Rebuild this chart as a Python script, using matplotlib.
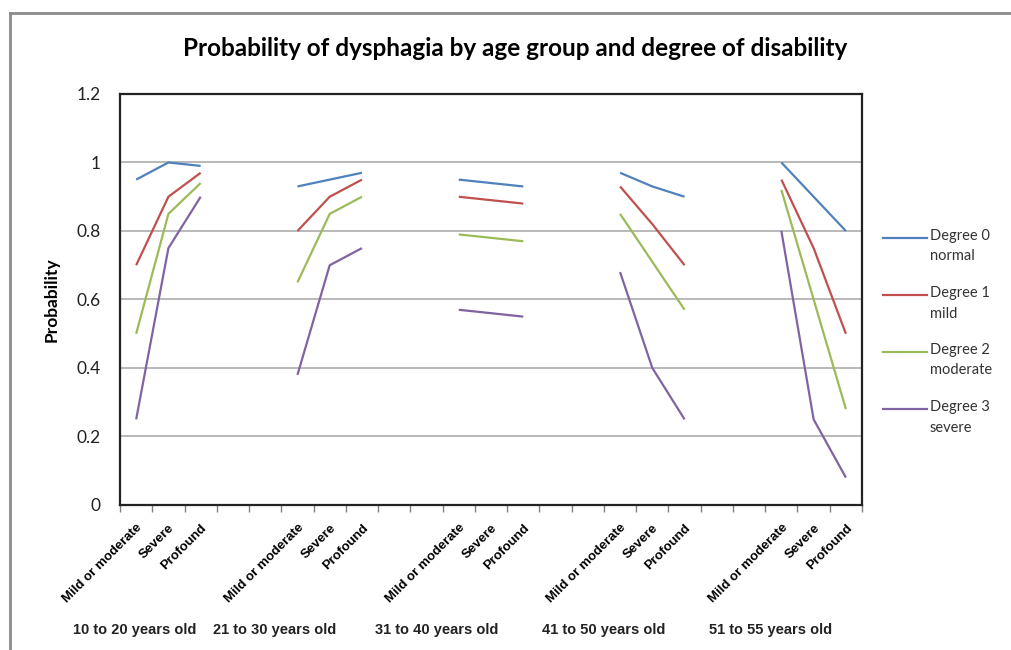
import numpy as np
import matplotlib.pyplot as plt
from matplotlib.lines import Line2D

# categories
age_groups = ["10 to 20 years old", "21 to 30 years old", "31 to 40 years old",
              "41 to 50 years old", "51 to 55 years old"]
disability = ["Mild or moderate", "Severe", "Profound"]

# probability per age group (3 values each: mild/moderate, severe, profound)
degree0 = [0.95, 1.00, 0.99, 0.93, 0.95, 0.97, 0.95, 0.94, 0.93, 0.97, 0.93, 0.90, 1.00, 0.90, 0.80]
degree1 = [0.70, 0.90, 0.97, 0.80, 0.90, 0.95, 0.90, 0.89, 0.88, 0.93, 0.82, 0.70, 0.95, 0.75, 0.50]
degree2 = [0.50, 0.85, 0.94, 0.65, 0.85, 0.90, 0.79, 0.78, 0.77, 0.85, 0.71, 0.57, 0.92, 0.60, 0.28]
degree3 = [0.25, 0.75, 0.90, 0.38, 0.70, 0.75, 0.57, 0.56, 0.55, 0.68, 0.40, 0.25, 0.80, 0.25, 0.08]

series_names = ["Degree 0\nnormal", "Degree 1\nmild", "Degree 2\nmoderate", "Degree 3\nsevere"]
series_values = [degree0, degree1, degree2, degree3]
colors = ["#4F81BD", "#C0504D", "#9BBB59", "#8064A2"]

# layout: 3 categories + 2 blank slots per group
slot = 5
n_slots = slot * len(age_groups) - 2
group_label_x = [-0.05, 4.3, 9.33, 14.5, 19.66]

fig = plt.figure(figsize=(10.12, 6.5), dpi=100)
ax = fig.add_axes([0.1186, 0.2231, 0.7332, 0.6323])

for vals, col in zip(series_values, colors):
    for g in range(len(age_groups)):
        xs = np.arange(3) + g * slot
        ax.plot(xs, vals[g * 3:g * 3 + 3], color=col, lw=1.6, solid_capstyle='butt')

ax.set_xlim(-0.5, n_slots - 0.5)
ax.set_ylim(0, 1.2)
ax.set_yticks(np.arange(0, 1.21, 0.2))
ax.set_yticklabels(["0", "0.2", "0.4", "0.6", "0.8", "1", "1.2"],
                   fontfamily="Lato", fontsize=12.5, color="#222222")
ax.yaxis.grid(True, color="#a6a6a6", lw=1.1)
ax.set_axisbelow(True)
ax.tick_params(axis='y', length=0, pad=14)

ticks = []
labels = []
for g in range(len(age_groups)):
    for i, d in enumerate(disability):
        ticks.append(g * slot + i)
        labels.append(d)
ax.set_xticks(ticks)
ax.set_xticklabels(labels, rotation=45, ha='right', va='top', rotation_mode='anchor',
                   fontfamily="Liberation Sans", fontweight='bold', fontsize=9.5)
ax.tick_params(axis='x', length=0, pad=12)
ax.set_xticks(np.arange(-0.5, n_slots, 1), minor=True)
ax.tick_params(axis='x', which='minor', length=5, color="#808080", width=1)

for s in ax.spines.values():
    s.set_color("#222222")
    s.set_linewidth(1.6)

for gx, name in zip(group_label_x, age_groups):
    ax.text(gx, -0.365, name, ha='center', va='center', fontfamily="Liberation Sans",
            fontweight='bold', fontsize=10.5, color="#222222", clip_on=False)

ax.set_ylabel("Probability", fontfamily="Lato", fontweight='bold', fontsize=12.5, labelpad=12)

fig.text(0.509, 0.925, "Probability of dysphagia by age group and degree of disability",
         ha='center', va='center', fontfamily="Lato", fontweight='bold', fontsize=17.5)

# legend drawn by hand
leg_y = [238, 295, 352, 409]
for name, col, y in zip(series_names, colors, leg_y):
    yf = 1 - y / 650
    fig.add_artist(Line2D([883 / 1012, 927 / 1012], [yf, yf], color=col, lw=1.6))
    fig.text(930 / 1012, yf + 0.014, name, ha='left', va='top', fontfamily="Lato",
             fontsize=10.5, color="#333333", linespacing=1.6)

# outer chart frame
fig.add_artist(Line2D([10 / 1012, 1.0], [1 - 13 / 650, 1 - 13 / 650], color="#8c8c8c", lw=2))
fig.add_artist(Line2D([10 / 1012, 10 / 1012], [0, 1 - 13 / 650], color="#8c8c8c", lw=2))

fig.savefig("out.png", dpi=100, facecolor='white')
